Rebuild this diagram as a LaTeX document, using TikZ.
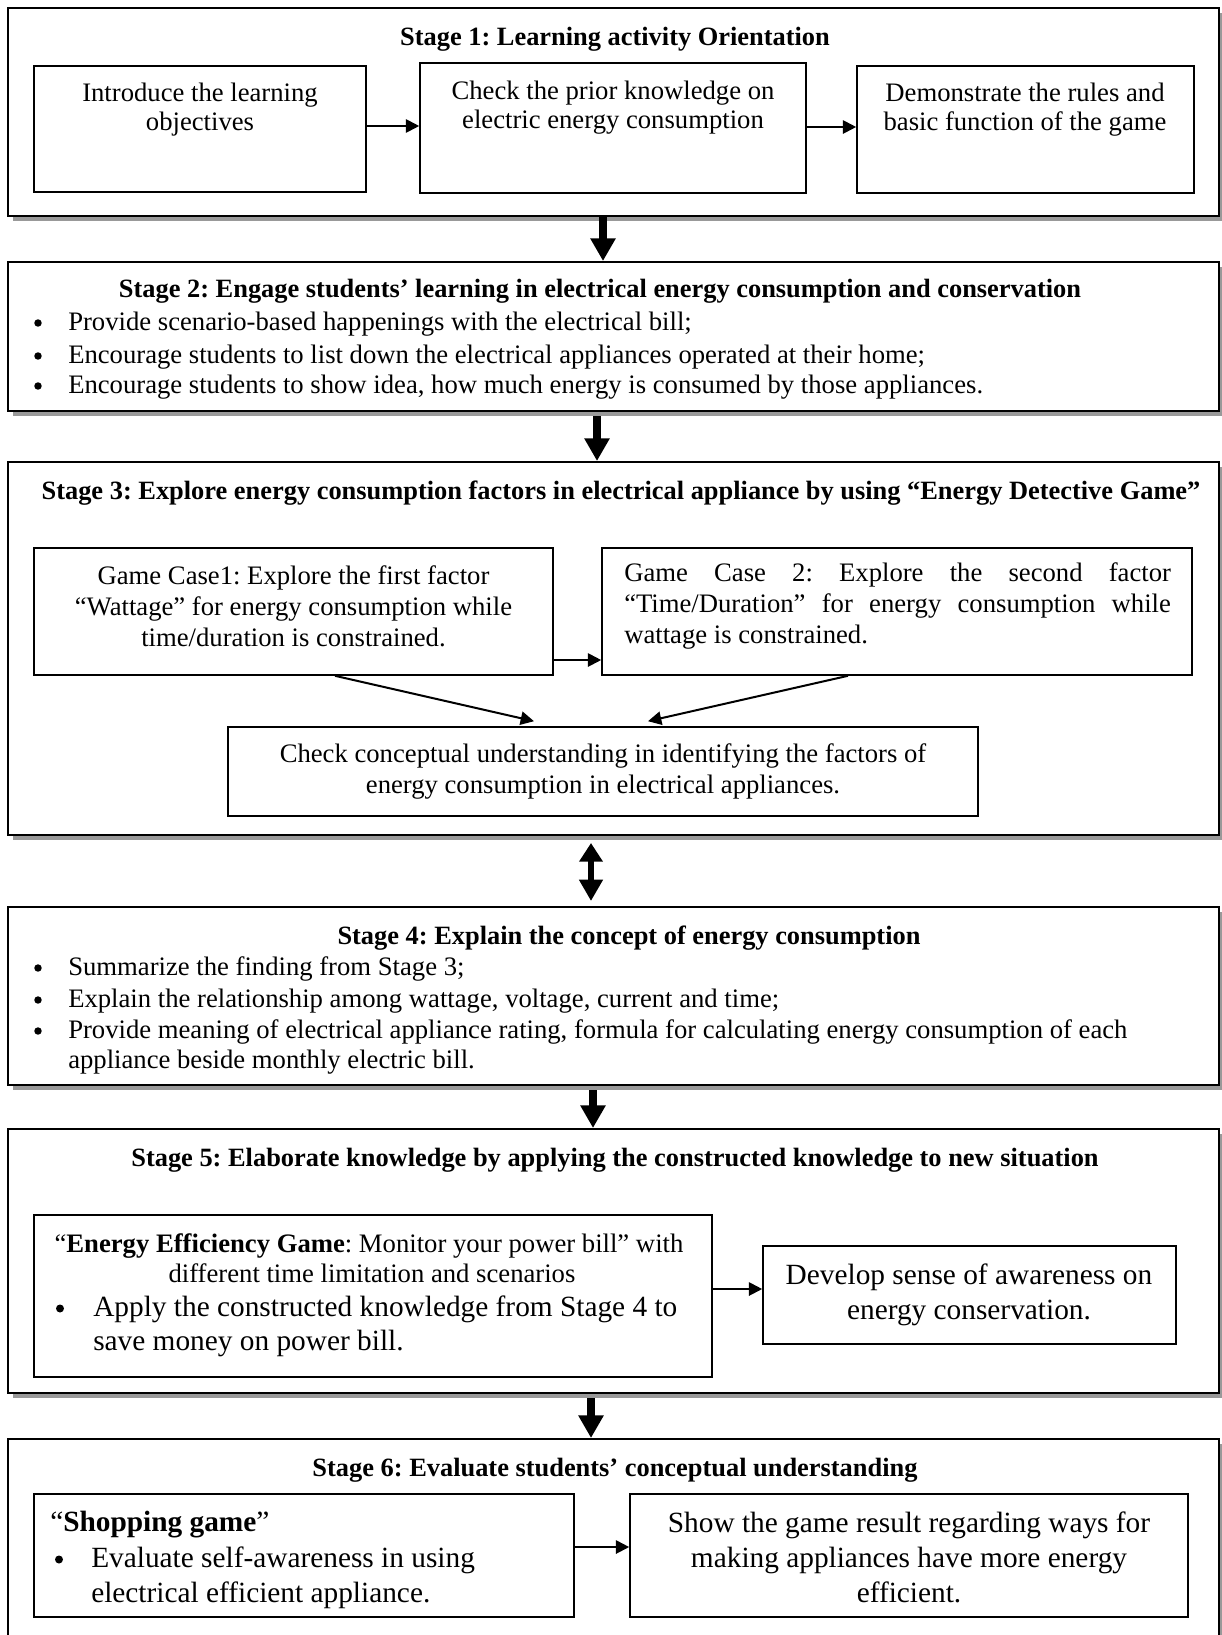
\documentclass[tikz,border=0pt]{standalone}
\usepackage{fontspec}
\setmainfont{Liberation Serif}
\usetikzlibrary{arrows.meta,calc,fit,shadows}
\begin{document}
\frenchspacing
\begin{tikzpicture}[x=0.75pt,y=-0.75pt,
  stage/.style={draw=black, line width=1.5pt, fill=white, inner sep=0pt,
    drop shadow={shadow xshift=4pt, shadow yshift=-4pt, fill=black!40, opacity=1}},
  inbox/.style={draw=black, line width=1.2pt, fill=white, inner sep=0pt},
  txt/.style={font=\fontsize{20}{23.25}\selectfont, inner sep=0pt, align=center},
  txtb/.style={font=\fontsize{20}{21.75}\selectfont, inner sep=0pt, align=center},
  big/.style={font=\fontsize{22}{26.25}\selectfont, inner sep=0pt, align=center},
  ttl/.style={font=\fontsize{19.8}{23}\selectfont\bfseries, inner sep=0pt},
  lft/.style={anchor=mid west},
  dot/.style={fill=black},
  arr/.style={line width=1.5pt, -{Triangle[width=10pt,length=10pt]}},
  bigarr/.style={line width=6pt, -{Triangle[width=18pt,length=17pt]}},
  dblarr/.style={line width=5pt, {Triangle[width=17pt,length=14pt]}-{Triangle[width=17pt,length=16pt]}},
]
\useasboundingbox (0,0) rectangle (1221,1635);

% ---------- Stage 1
\node[stage, fit={(8,8) (1219,216)}] (s1) {};
\node[ttl] (t1) at (615,39) {Stage 1: Learning activity Orientation};
\node[inbox, fit={(34,66) (366,192)}] (a) {};
\node[txtb] (ta) at (200,110) {Introduce the learning\\objectives};
\node[inbox, fit={(420,63) (806,193)}] (b) {};
\node[txtb] (tb) at (613,108) {Check the prior knowledge on\\electric energy consumption};
\node[inbox, fit={(857,66) (1194,193)}] (c) {};
\node[txtb] (tc) at (1025,110) {Demonstrate the rules and\\basic function of the game};

% ---------- Stage 2
\node[stage, fit={(8,262) (1219,411)}] (s2) {};
\node[ttl] (t2) at (600,291) {Stage 2: Engage students’ learning in electrical energy consumption and conservation};
\node[txt, lft] (l21) at (68,327) {Provide scenario-based happenings with the electrical bill;};
\node[txt, lft] (l22) at (68,360) {Encourage students to list down the electrical appliances operated at their home;};
\node[txt, lft] (l23) at (68,390) {Encourage students to show idea, how much energy is consumed by those appliances.};
\fill[dot] ($(l21.mid west)+(-30,-4)$) circle[radius=2.8pt];
\fill[dot] ($(l22.mid west)+(-30,-4)$) circle[radius=2.8pt];
\fill[dot] ($(l23.mid west)+(-30,-4)$) circle[radius=2.8pt];

% ---------- Stage 3
\node[stage, fit={(8,462) (1219,835)}] (s3) {};
\node[ttl] (t3) at (621,493) {Stage 3: Explore energy consumption factors in electrical appliance by using “Energy Detective Game”};
\node[inbox, fit={(34,548) (553,675)}] (gc1) {};
\node[txt] (tgc1) at (293.5,606) {Game Case1: Explore the first factor\\“Wattage” for energy consumption while\\time/duration is constrained.};
\node[inbox, fit={(602,548) (1192,675)}] (gc2) {};
\node[txt, align=left, anchor=west] (tgc2) at (624,606) {\makebox[410pt][s]{Game Case 2: Explore the second factor}\\\makebox[410pt][s]{“Time/Duration” for energy consumption while}\\wattage is constrained.};
\node[inbox, fit={(228,727) (978,816)}] (chk) {};
\node[txt] (tchk) at (603,771) {Check conceptual understanding in identifying the factors of\\energy consumption in electrical appliances.};

% ---------- Stage 4
\node[stage, fit={(8,907) (1219,1085)}] (s4) {};
\node[ttl] (t4) at (629,938) {Stage 4: Explain the concept of energy consumption};
\node[txt, lft] (l41) at (68,972) {Summarize the finding from Stage 3;};
\node[txt, lft] (l42) at (68,1004) {Explain the relationship among wattage, voltage, current and time;};
\node[txt, lft] (l43) at (68,1035) {Provide meaning of electrical appliance rating, formula for calculating energy consumption of each};
\node[txt, lft] (l44) at (68,1065) {appliance beside monthly electric bill.};
\fill[dot] ($(l41.mid west)+(-30,-4)$) circle[radius=2.8pt];
\fill[dot] ($(l42.mid west)+(-30,-4)$) circle[radius=2.8pt];
\fill[dot] ($(l43.mid west)+(-30,-4)$) circle[radius=2.8pt];

% ---------- Stage 5
\node[stage, fit={(8,1129) (1219,1393)}] (s5) {};
\node[ttl] (t5) at (615,1160) {Stage 5: Elaborate knowledge by applying the constructed knowledge to new situation};
\node[inbox, fit={(34,1215) (712,1377)}] (ee) {};
\node[txt] (e1) at (369,1246) {“\textbf{Energy Efficiency Game}: Monitor your power bill” with};
\node[txt] (e2) at (372,1273) {different time limitation and scenarios};
\node[big, lft] (e3) at (93,1313) {Apply the constructed knowledge from Stage 4 to};
\node[big, lft] (e4) at (93,1347) {save money on power bill.};
\fill[dot] ($(e3.mid west)+(-33,-4.5)$) circle[radius=3pt];
\node[inbox, fit={(763,1246) (1176,1344)}] (dev) {};
\node[big] (tdev) at (969,1294.5) {Develop sense of awareness on\\energy conservation.};

% ---------- Stage 6
\node[stage, fit={(8,1439) (1219,1665)}] (s6) {};
\node[ttl] (t6) at (615,1470) {Stage 6: Evaluate students’ conceptual understanding};
\node[inbox, fit={(34,1494) (574,1617)}] (shop) {};
\node[big, lft] (sh1) at (50,1528) {“\textbf{Shopping game}”};
\node[big, lft] (sh2) at (91,1564) {Evaluate self-awareness in using};
\node[big, lft] (sh3) at (91,1599) {electrical efficient appliance.};
\fill[dot] ($(sh2.mid west)+(-32,-4.5)$) circle[radius=3pt];
\node[inbox, fit={(630,1494) (1188,1617)}] (res) {};
\node[big] (tres) at (909,1557) {Show the game result regarding ways for\\making appliances have more energy\\efficient.};

% ---------- connectors inside stages
\draw[arr] ($(a.east)+(0,-3)$) -- ($(a.east -| b.west)+(0,-3)$);
\draw[arr] ($(b.east)+(0,-1)$) -- ($(b.east -| c.west)+(0,-1)$);
\draw[arr] ($(gc1.east)+(0,48.5)$) -- ($(gc1.east -| gc2.west)+(0,48.5)$);
\draw[arr] ($(gc1.south)+(41.5,0)$) -- ($(chk.north)+(-69,-5)$);
\draw[arr] ($(gc2.south)+(-49,0)$) -- ($(chk.north)+(45,-5)$);
\draw[arr] ($(ee.east)+(0,-7)$) -- ($(ee.east -| dev.west)+(0,-7)$);
\draw[arr] ($(shop.east)+(0,-8.5)$) -- ($(shop.east -| res.west)+(0,-8.5)$);

% ---------- connectors between stages
\draw[bigarr] ($(s1.south)+(-10.5,0)$) -- ($(s2.north)+(-10.5,0)$);
\draw[bigarr] ($(s2.south)+(-16.5,4)$) -- ($(s3.north)+(-16.5,0)$);
\draw[dblarr] ($(s3.south)+(-22.5,7)$) -- ($(s4.north)+(-22.5,-5)$);
\draw[bigarr] ($(s4.south)+(-20.5,4)$) -- ($(s5.north)+(-20.5,0)$);
\draw[bigarr] ($(s5.south)+(-22.5,4)$) -- ($(s6.north)+(-22.5,0)$);
\end{tikzpicture}
\end{document}
